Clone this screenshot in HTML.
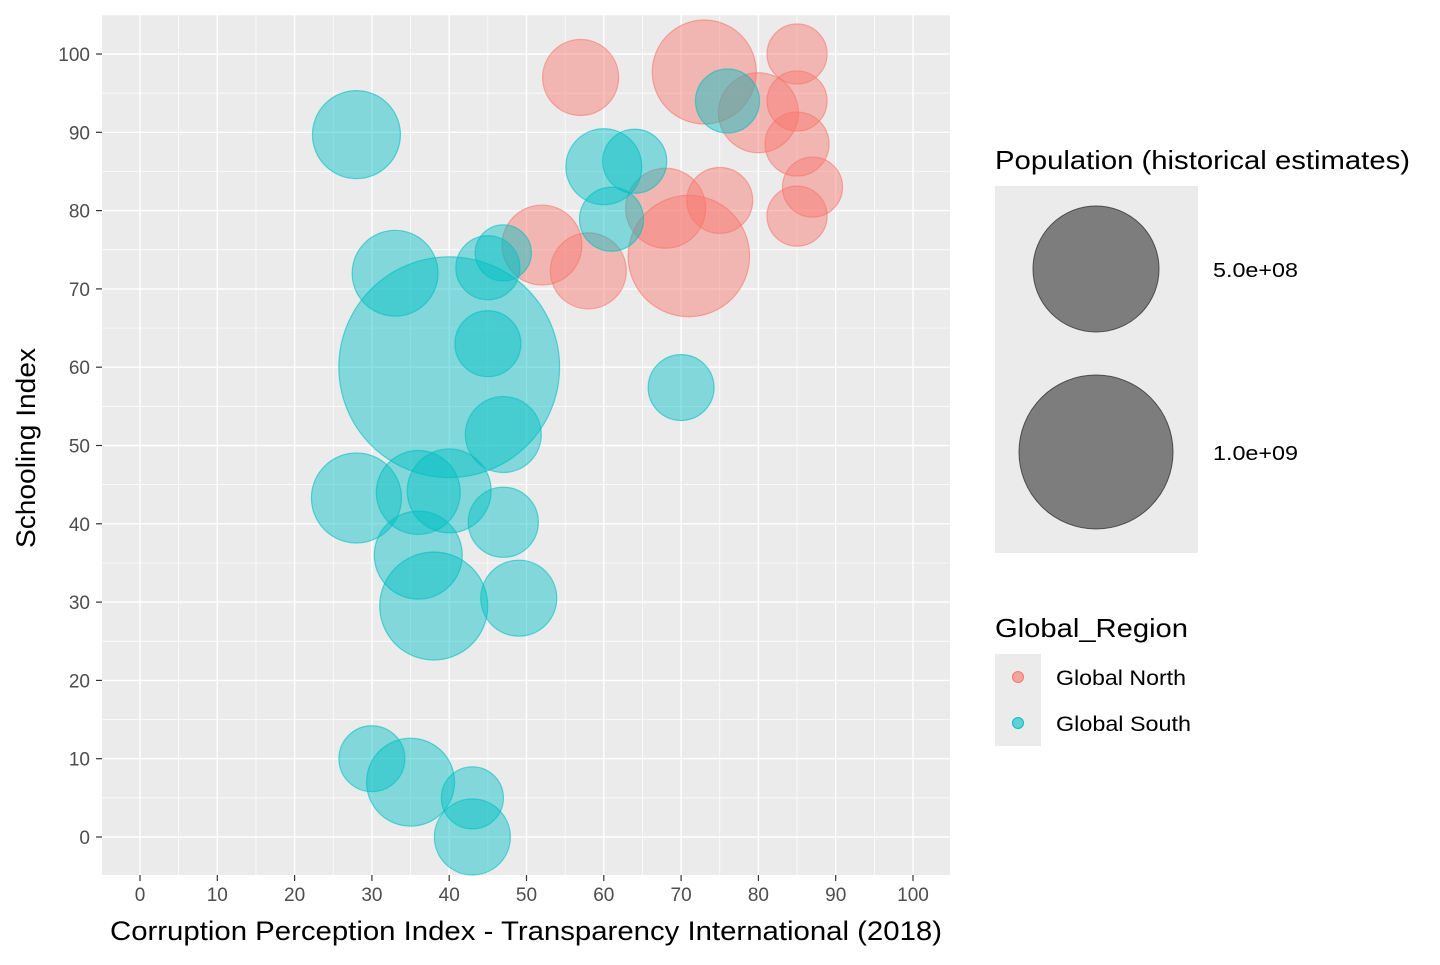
<!DOCTYPE html>
<html><head><meta charset="utf-8"><style>
body{margin:0;background:#fff;}
svg text{font-family:"Liberation Sans",Arial,sans-serif;}
</style></head><body>
<svg id="chart" width="1440" height="960" xmlns="http://www.w3.org/2000/svg">
<rect x="102" y="15" width="848" height="860" fill="#EBEBEB"/>
<g id="grid"></g>
<g id="bubbles"></g>
<g id="axes"></g>
<text x="110" y="940" font-size="27" textLength="832" lengthAdjust="spacingAndGlyphs" fill="#000">Corruption Perception Index - Transparency International (2018)</text>
<text transform="translate(35,548) rotate(-90)" font-size="27" textLength="200" lengthAdjust="spacingAndGlyphs" fill="#000">Schooling Index</text>
<g>
<text x="995" y="169" font-size="26" textLength="415" lengthAdjust="spacingAndGlyphs" fill="#000">Population (historical estimates)</text>
<rect x="995" y="186" width="203" height="367" fill="#EBEBEB"/>
<circle cx="1096" cy="269" r="63" fill="#333" fill-opacity="0.6" stroke="#333" stroke-opacity="0.8"/>
<circle cx="1096" cy="452" r="77" fill="#333" fill-opacity="0.6" stroke="#333" stroke-opacity="0.8"/>
<text x="1213" y="277" font-size="20" textLength="85" lengthAdjust="spacingAndGlyphs" fill="#000">5.0e+08</text>
<text x="1213" y="460" font-size="20" textLength="85" lengthAdjust="spacingAndGlyphs" fill="#000">1.0e+09</text>
</g>
<g>
<text x="995" y="637" font-size="26" textLength="193" lengthAdjust="spacingAndGlyphs" fill="#000">Global_Region</text>
<rect x="995" y="654" width="46" height="92" fill="#EBEBEB"/>
<circle cx="1018" cy="677" r="5.5" fill="#F8766D" fill-opacity="0.6" stroke="#F8766D"/>
<circle cx="1018" cy="723" r="5.5" fill="#00BFC4" fill-opacity="0.6" stroke="#00BFC4"/>
<text x="1056" y="685" font-size="21" textLength="130" lengthAdjust="spacingAndGlyphs" fill="#000">Global North</text>
<text x="1056" y="731" font-size="21" textLength="135" lengthAdjust="spacingAndGlyphs" fill="#000">Global South</text>
</g>
</svg>
<script>
const xTicks=[0,10,20,30,40,50,60,70,80,90,100];
const yTicks=[0,10,20,30,40,50,60,70,80,90,100];
const northCPI=[57,73,85,80,85,85,87,85,75,68,71,52,58];
const northSchool=[97,97.7,100,92.5,94,88.5,83,79.3,81.3,80.3,74.2,75.6,72.3];
const northPop=[141,264,88,156,88,100,88,88,106,156,360,156,141];
const southCPI=[28,76,60,64,61,47,45,33,40,45,70,47,28,36,40,47,36,38,49,30,35,43,43];
const southSchool=[89.7,94,85.6,86.3,78.9,74.6,72.7,72,60,63,57.4,51.4,43.3,44,44.2,40.2,36,29.5,30.5,10,7,5,0];
const southPop=[189,100,141,100,100,77,100,180,1190,106,106,141,198,172,172,120,189,285,141,106,189,94,141];
const NS='http://www.w3.org/2000/svg';
const xs=v=>140+7.73*v;
const ys=v=>837-7.83*v;
const rs=p=>3.2*Math.sqrt(p);
function mk(tag,attrs,parent){const e=document.createElementNS(NS,tag);for(const k in attrs)e.setAttribute(k,attrs[k]);parent.appendChild(e);return e;}
const grid=document.getElementById('grid'),axes=document.getElementById('axes'),bub=document.getElementById('bubbles');
xTicks.forEach((t,i)=>{
  if(i<xTicks.length-1){const m=mk('line',{x1:xs(t+5),x2:xs(t+5),y1:15,y2:875,stroke:'#fff','stroke-width':0.7},grid);
  
  }
  const l=mk('line',{x1:xs(t),x2:xs(t),y1:15,y2:875,stroke:'#fff','stroke-width':1.4},grid);
  
  
  mk('line',{x1:xs(t),x2:xs(t),y1:875,y2:881,stroke:'#333','stroke-width':1.2},axes);
  const tx=mk('text',{x:xs(t),y:901,'font-size':19,'text-anchor':'middle',fill:'#4D4D4D'},axes);
  tx.textContent=t;
  
  
});
mk('line',{x1:xs(-5),x2:xs(-5),y1:15,y2:875,stroke:'#fff','stroke-width':0.7},grid);
mk('line',{x1:xs(105),x2:xs(105),y1:15,y2:875,stroke:'#fff','stroke-width':0.7},grid);
yTicks.forEach((t,i)=>{
  if(i<yTicks.length-1){const m=mk('line',{x1:102,x2:950,y1:ys(t+5),y2:ys(t+5),stroke:'#fff','stroke-width':0.7},grid);
  
  }
  const l=mk('line',{x1:102,x2:950,y1:ys(t),y2:ys(t),stroke:'#fff','stroke-width':1.4},grid);
  
  
  mk('line',{x1:96,x2:102,y1:ys(t),y2:ys(t),stroke:'#333','stroke-width':1.2},axes);
  const tx=mk('text',{x:90,y:ys(t)+7,'font-size':19,'text-anchor':'end',fill:'#4D4D4D'},axes);
  tx.textContent=t;
  
  
});
mk('line',{x1:102,x2:950,y1:ys(-5),y2:ys(-5),stroke:'#fff','stroke-width':0.7},grid);
mk('line',{x1:102,x2:950,y1:ys(105),y2:ys(105),stroke:'#fff','stroke-width':0.7},grid);
const all=[];
northCPI.forEach((v,i)=>all.push({x:v,y:northSchool[i],p:northPop[i],c:'#F8766D',n:'north'}));
southCPI.forEach((v,i)=>all.push({x:v,y:southSchool[i],p:southPop[i],c:'#00BFC4',n:'south'}));
all.forEach(d=>{
  const c=mk('circle',{cx:xs(d.x),cy:ys(d.y),r:rs(d.p),fill:d.c,'fill-opacity':0.45,stroke:d.c,'stroke-opacity':0.6,'stroke-width':1.2},bub);
  
  
});
</script>
</body></html>
